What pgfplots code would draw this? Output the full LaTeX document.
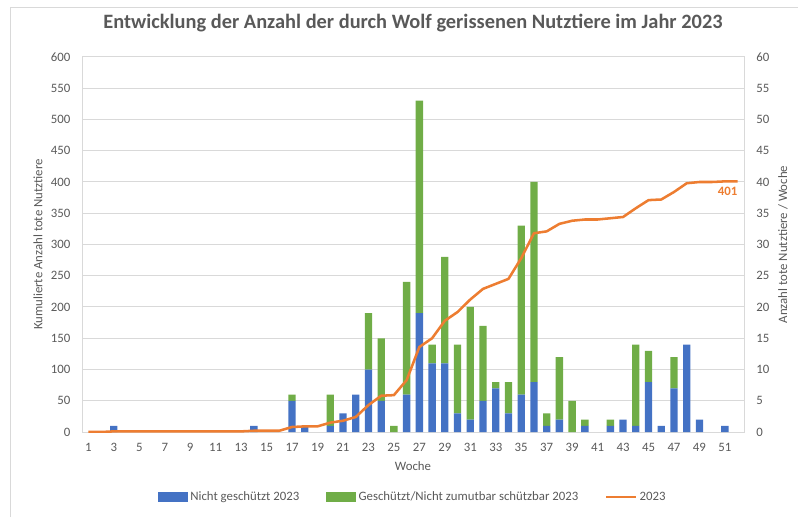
\documentclass[border=0pt]{standalone}
\usepackage{fontspec}
\setmainfont{Carlito}
\usepackage{pgfplots}
\usepackage{pgfplotstable}
\pgfplotsset{compat=1.18}

\definecolor{nsblue}{HTML}{4472C4}
\definecolor{gsgreen}{HTML}{70AD47}
\definecolor{cumorange}{HTML}{ED7D31}
\definecolor{gridgray}{HTML}{D9D9D9}
\definecolor{txtgray}{HTML}{595959}

% weekly kills: not protected / protected
\pgfplotstableread{
week blue green
3  1  0
14 1  0
17 5  1
18 1  0
20 1  5
21 3  0
22 6  0
23 10 9
24 5  10
25 0  1
26 6  18
27 19 34
28 11 3
29 11 17
30 3  11
31 2  18
32 5  12
33 7  1
34 3  5
35 6  27
36 8  32
37 1  2
38 2  10
39 0  5
40 1  1
42 1  1
43 2  0
44 1  13
45 8  5
46 1  0
47 7  5
48 14 0
49 2  0
51 1  0
}\weekly

% cumulative total
\pgfplotstableread{
week cum
1  0
2  0
3  1
4  1
5  1
6  1
7  1
8  1
9  1
10 1
11 1
12 1
13 1
14 2
15 2
16 2
17 8
18 9
19 9
20 15
21 18
22 24
23 43
24 58
25 59
26 83
27 136
28 150
29 178
30 192
31 212
32 229
33 237
34 245
35 278
36 318
37 321
38 333
39 338
40 340
41 340
42 342
43 344
44 358
45 371
46 372
47 384
48 398
49 400
50 400
51 401
52 401
}\cumulative

\pgfplotsset{
  chartbase/.style={
    scale only axis,
    width=496.5pt, height=281.25pt,
    at={(0,0)}, anchor=south west,
    xmin=0.5, xmax=52.5,
    major tick length=0pt,
    tick label style={font=\fontsize{9.6}{11}\selectfont, text=txtgray,
      /pgf/number format/assume math mode=true},
    label style={font=\fontsize{9.6}{11}\selectfont, text=txtgray},
  }
}

\begin{document}
\begin{tikzpicture}
\useasboundingbox (-61.5pt,-63.75pt) rectangle (537pt,324pt);
\draw[gridgray, line width=0.75pt] (-53.25pt,-63.75pt) -- (-53.25pt,318pt) -- (537pt,318pt);

% bars, right axis
\begin{axis}[
  chartbase,
  ybar stacked, bar width=5.5pt,
  ymin=0, ymax=60, ytick distance=5,
  yticklabel pos=right,
  yticklabel style={anchor=west, inner sep=0pt, xshift=9pt},
  xtick={1,3,...,51},
  xticklabel style={anchor=center, yshift=-11.25pt},
  ymajorgrids, grid style={gridgray, line width=0.75pt},
  axis line style={gridgray, line width=0.75pt},
  xlabel={Woche},
  xlabel style={at={(axis description cs:0.5,-0.0907)}, anchor=center},
  ylabel={Anzahl tote Nutztiere / Woche},
  ylabel style={at={(axis description cs:1.0589,0.5)}, anchor=center},
  title={Entwicklung der Anzahl der durch Wolf gerissenen Nutztiere im Jahr 2023},
  title style={at={(axis description cs:0.5,1)}, anchor=center, yshift=19.5pt,
    font=\bfseries\fontsize{15.3}{18}\selectfont, text=txtgray},
]
\addplot[fill=nsblue, draw=none] table[x=week, y=blue] {\weekly};
\addplot[fill=gsgreen, draw=none] table[x=week, y=green] {\weekly};
\end{axis}

% cumulative line, left axis
\begin{axis}[
  chartbase,
  ymin=0, ymax=600, ytick distance=50,
  axis x line=none,
  axis y line*=left,
  axis line style={draw=none},
  yticklabel style={anchor=east, inner sep=0pt, xshift=-8.5pt},
  ylabel={Kumulierte Anzahl tote Nutztiere},
  ylabel style={at={(axis description cs:-0.0665,0.5)}, anchor=center},
  legend columns=3,
  legend style={at={(0.5,-0.1733)}, anchor=center, draw=none, fill=none,
    font=\fontsize{9.6}{11}\selectfont, text=txtgray,
    /tikz/every even column/.append style={column sep=18pt}},
  legend cell align=left,
]
\addplot[cumorange, line width=1.9pt, line join=round, forget plot]
  table[x=week, y=cum] {\cumulative};
\node[anchor=north east, inner sep=0pt, yshift=-4pt, text=cumorange,
  font=\bfseries\fontsize{9.6}{11}\selectfont] at (axis cs:52,401) {401};

\addlegendimage{legend image code/.code={\fill[nsblue] (0pt,-3.4pt) rectangle (22pt,3.4pt);}}
\addlegendentry{Nicht geschützt 2023}
\addlegendimage{legend image code/.code={\fill[gsgreen] (0pt,-3.4pt) rectangle (22pt,3.4pt);}}
\addlegendentry{Geschützt/Nicht zumutbar schützbar 2023}
\addlegendimage{legend image code/.code={\draw[cumorange, line width=1.9pt] (0pt,0pt) -- (22pt,0pt);}}
\addlegendentry{2023}
\end{axis}
\end{tikzpicture}
\end{document}
